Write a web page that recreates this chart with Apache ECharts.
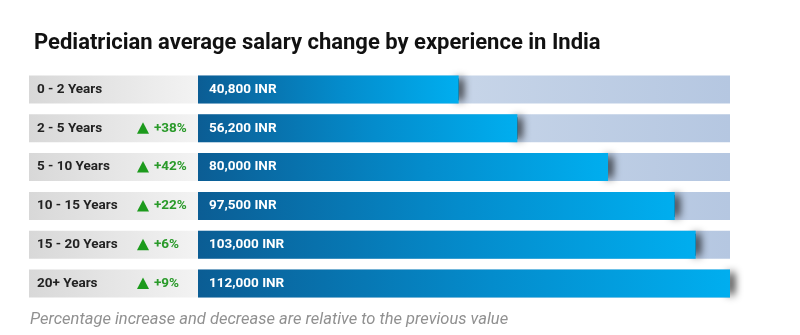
<!DOCTYPE html>
<html>
<head>
<meta charset="utf-8">
<script src="https://cdn.jsdelivr.net/npm/echarts@6/dist/echarts.min.js"></script>
<style>html,body{margin:0;padding:0;background:#fff}#chart{width:800px;height:335px}</style>
</head>
<body>
<div id="chart"></div>
<script>
const titleText = 'Pediatrician average salary change by experience in India';
const footnote = 'Percentage increase and decrease are relative to the previous value';
const categories = ['0 - 2 Years', '2 - 5 Years', '5 - 10 Years', '10 - 15 Years', '15 - 20 Years', '20+ Years'];
const salaries = [40800, 56200, 80000, 97500, 103000, 112000];
const changes = ['', '+38%', '+42%', '+22%', '+6%', '+9%'];
const currency = 'INR';

const X_MIN = -27600, X_MAX = 112000;
const chart = echarts.init(document.getElementById('chart'));
const FONT = 'Roboto, "Liberation Sans", sans-serif';

function renderItem(params, api) {
  const v = api.value(0), i = api.value(1);
  const end = api.coord([v, i]);
  const start = api.coord([X_MIN, i]);
  const full = api.coord([X_MAX, i]);
  const h = api.size([0, 1])[1] * 0.72;
  const y = end[1] - h / 2, cy = end[1];
  const lx = start[0] - 169;
  const children = [];
  children.push({type: 'rect', shape: {x: lx, y: y, width: 169, height: h},
    style: {fill: new echarts.graphic.LinearGradient(0, 0, 1, 0, [{offset: 0, color: '#d8d8d8'}, {offset: 1, color: '#f3f3f3'}])}});
  children.push({type: 'text', style: {text: categories[i], x: lx + 8, y: cy, verticalAlign: 'middle',
    fill: '#222', font: 'bold 13.5px ' + FONT}});
  if (changes[i]) {
    const tx = lx + 114;
    children.push({type: 'polygon', shape: {points: [[tx - 6, cy + 5.5], [tx + 6, cy + 5.5], [tx, cy - 6]]}, style: {fill: '#1c9a1c'}});
    children.push({type: 'text', style: {text: changes[i], x: lx + 125, y: cy, verticalAlign: 'middle',
      fill: '#2a9a2a', font: 'bold 13.5px ' + FONT}});
  }
  children.push({type: 'rect', shape: {x: start[0], y: y, width: full[0] - start[0], height: h},
    style: {fill: new echarts.graphic.LinearGradient(0, 0, 1, 0, [{offset: 0, color: '#d8e2ef'}, {offset: 1, color: '#b5c7e1'}])}});
  children.push({type: 'rect', shape: {x: end[0] - 6, y: y + 3, width: 6, height: h - 6},
    style: {fill: 'rgba(20,20,25,1)', shadowBlur: 8, shadowColor: 'rgba(0,0,0,1)', shadowOffsetX: 4}});
  children.push({type: 'rect', shape: {x: start[0], y: y, width: end[0] - start[0], height: h},
    style: {fill: new echarts.graphic.LinearGradient(0, 0, 1, 0, [{offset: 0, color: '#0b5d94'}, {offset: 0.55, color: '#048ccc'}, {offset: 1, color: '#00aeef'}])}});
  children.push({type: 'text', style: {text: v.toLocaleString('en-US') + ' ' + currency, x: start[0] + 11, y: cy, verticalAlign: 'middle',
    fill: '#fff', font: 'bold 13.5px ' + FONT}});
  return {type: 'group', children: children};
}

chart.setOption({
  animation: false,
  title: {text: titleText, left: 29, top: 27, textStyle: {fontFamily: FONT, fontWeight: 'bold', fontSize: 22, color: '#111'}},
  grid: {left: 198, right: 70, top: 70, height: 233},
  xAxis: {type: 'value', min: X_MIN, max: X_MAX, show: false},
  yAxis: {type: 'category', data: categories, inverse: true, show: false},
  graphic: [{type: 'text', left: 30, top: 311, style: {text: footnote, fill: '#909090', font: 'italic 16.5px ' + FONT}}],
  series: [{type: 'custom', renderItem: renderItem, encode: {x: 0, y: 1},
    data: salaries.map((s, i) => [s, i])}]
});
</script>
</body>
</html>
